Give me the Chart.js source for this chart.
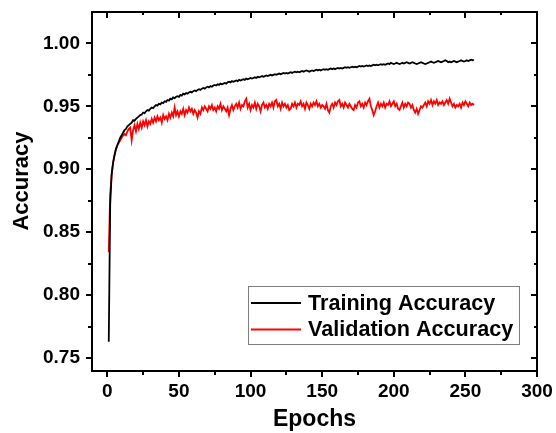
<!DOCTYPE html>
<html>
<head>
<meta charset="utf-8">
<script src="https://cdn.jsdelivr.net/npm/chart.js@4.4.1/dist/chart.umd.min.js"></script>
<style>
html,body{margin:0;padding:0;background:#fff;}
#wrap{width:556px;height:433px;position:relative;}
</style>
</head>
<body>
<div id="wrap"><canvas id="c" width="556" height="433"></canvas></div>
<script>
// ---- data ----
const seriesNames = ["Training Accuracy", "Validation Accuracy"];
const xTitle = "Epochs";
const yTitle = "Accuracy";
const trainAcc = [
0.763,0.872,0.896,0.905,0.911,0.916,0.919,0.922,0.925,0.927,
0.929,0.931,0.932,0.934,0.935,0.936,0.937,0.939,0.9385,0.940,
0.941,0.942,0.943,0.9435,0.945,0.9445,0.946,0.947,0.9465,0.948,
0.949,0.9485,0.950,0.951,0.9505,0.952,0.9515,0.953,0.9525,0.954,
0.9535,0.955,0.9545,0.956,0.9555,0.957,0.9565,0.9575,0.958,0.9575,
0.959,0.9585,0.960,0.9595,0.9605,0.960,0.961,0.9615,0.961,0.962,
0.9625,0.962,0.963,0.9635,0.963,0.964,0.9645,0.964,0.965,0.9655,
0.965,0.966,0.9655,0.9665,0.967,0.9665,0.9675,0.967,0.968,0.9675,
0.968,0.9685,0.968,0.969,0.9695,0.969,0.970,0.9695,0.970,0.9705,
0.970,0.971,0.9705,0.971,0.9715,0.971,0.972,0.9715,0.972,0.9725,
0.972,0.9725,0.973,0.9725,0.9735,0.973,0.9735,0.974,0.9735,0.974,
0.9745,0.974,0.9745,0.975,0.9745,0.975,0.9755,0.975,0.9755,0.976,
0.9755,0.976,0.9765,0.976,0.9765,0.976,0.9765,0.977,0.9765,0.977,
0.9775,0.977,0.9775,0.977,0.9775,0.978,0.9775,0.978,0.9785,0.978,
0.9775,0.978,0.9785,0.978,0.9785,0.979,0.9785,0.979,0.9785,0.979,
0.9795,0.979,0.9795,0.979,0.9795,0.980,0.9795,0.980,0.9795,0.980,
0.9805,0.980,0.9805,0.980,0.9805,0.981,0.9805,0.981,0.9805,0.981,
0.9815,0.981,0.9815,0.981,0.9815,0.982,0.9815,0.982,0.9815,0.982,
0.9825,0.982,0.9825,0.982,0.9825,0.983,0.9825,0.983,0.9825,0.983,
0.9835,0.983,0.9835,0.983,0.9835,0.984,0.9835,0.9845,0.984,0.9835,
0.984,0.9845,0.984,0.9835,0.984,0.9845,0.984,0.9845,0.985,0.9845,
0.984,0.9845,0.985,0.9845,0.984,0.9835,0.984,0.9845,0.985,0.9845,
0.984,0.9835,0.984,0.9845,0.985,0.9855,0.985,0.9845,0.985,0.9855,
0.986,0.9855,0.985,0.9855,0.986,0.9865,0.986,0.985,0.9855,0.985,
0.9855,0.986,0.9855,0.985,0.9855,0.986,0.9865,0.986,0.9855,0.986,
0.9865,0.986,0.9865,0.987,0.9865,0.987
];
const valAcc = [
0.834,0.880,0.895,0.905,0.911,0.916,0.919,0.921,0.923,0.925,
0.927,0.928,0.927,0.930,0.932,0.933,0.923,0.931,0.935,0.930,
0.936,0.932,0.937,0.933,0.938,0.935,0.939,0.934,0.938,0.936,
0.940,0.937,0.941,0.938,0.942,0.939,0.941,0.937,0.943,0.940,
0.942,0.939,0.944,0.941,0.945,0.942,0.949,0.943,0.946,0.942,
0.946,0.944,0.948,0.943,0.947,0.945,0.949,0.946,0.948,0.944,
0.947,0.945,0.941,0.946,0.944,0.949,0.947,0.950,0.948,0.946,
0.950,0.948,0.951,0.947,0.949,0.946,0.950,0.948,0.952,0.947,
0.950,0.948,0.946,0.949,0.943,0.948,0.951,0.947,0.950,0.952,
0.949,0.953,0.948,0.951,0.950,0.954,0.956,0.949,0.952,0.947,
0.951,0.949,0.953,0.948,0.952,0.950,0.946,0.951,0.953,0.949,
0.951,0.948,0.952,0.950,0.953,0.949,0.954,0.955,0.950,0.952,
0.948,0.953,0.950,0.952,0.949,0.951,0.947,0.948,0.952,0.950,
0.953,0.949,0.952,0.951,0.954,0.950,0.952,0.948,0.953,0.951,
0.948,0.952,0.950,0.953,0.951,0.954,0.950,0.952,0.949,0.951,
0.950,0.948,0.952,0.947,0.945,0.950,0.952,0.949,0.953,0.951,
0.954,0.955,0.950,0.952,0.949,0.953,0.951,0.949,0.952,0.950,
0.948,0.947,0.951,0.949,0.953,0.954,0.950,0.952,0.949,0.953,
0.951,0.954,0.956,0.950,0.947,0.943,0.946,0.950,0.953,0.949,
0.952,0.950,0.953,0.949,0.952,0.951,0.954,0.950,0.952,0.954,
0.950,0.952,0.948,0.947,0.950,0.953,0.949,0.952,0.950,0.953,
0.952,0.949,0.951,0.947,0.945,0.948,0.944,0.947,0.950,0.949,
0.951,0.953,0.950,0.954,0.952,0.955,0.951,0.954,0.952,0.955,
0.951,0.953,0.952,0.954,0.951,0.953,0.955,0.952,0.956,0.953,
0.950,0.952,0.949,0.951,0.950,0.952,0.949,0.953,0.951,0.954,
0.952,0.950,0.953,0.951,0.952,0.951
];
const epochs = trainAcc.map((_, i) => i + 1);
const xTicks = [0, 50, 100, 150, 200, 250, 300];
const xMinorTicks = [25, 75, 125, 175, 225, 275];
const yTicks = [0.75, 0.80, 0.85, 0.90, 0.95, 1.00];
const yMinorTicks = [0.775, 0.825, 0.875, 0.925, 0.975];

const FONT = "'Liberation Sans', Arial, Helvetica, sans-serif";

const framePlugin = {
  id: 'frame',
  afterDraw(chart) {
    const ctx = chart.ctx;
    const a = chart.chartArea;
    const xs = chart.scales.x, ys = chart.scales.y;
    ctx.save();
    ctx.strokeStyle = '#000';
    ctx.lineWidth = 2;
    ctx.lineCap = 'butt';
    ctx.beginPath();
    ctx.moveTo(a.left - 1, a.top); ctx.lineTo(a.right + 1, a.top);
    ctx.moveTo(a.right, a.top); ctx.lineTo(a.right, a.bottom + 1);
    ctx.stroke();
    ctx.beginPath();
    xTicks.forEach(v => { const p = Math.round(xs.getPixelForValue(v)); ctx.moveTo(p, a.top); ctx.lineTo(p, a.top + 6); });
    yTicks.forEach(v => { const p = Math.round(ys.getPixelForValue(v)); ctx.moveTo(a.right, p); ctx.lineTo(a.right - 6, p); });
    xMinorTicks.forEach(v => { const p = Math.round(xs.getPixelForValue(v)); ctx.moveTo(p, a.top); ctx.lineTo(p, a.top + 3); ctx.moveTo(p, a.bottom); ctx.lineTo(p, a.bottom + 4); });
    yMinorTicks.forEach(v => { const p = Math.round(ys.getPixelForValue(v)); ctx.moveTo(a.right, p); ctx.lineTo(a.right - 3, p); ctx.moveTo(a.left, p); ctx.lineTo(a.left - 4, p); });
    ctx.stroke();

    // y axis title
    ctx.save();
    ctx.translate(22, 181);
    ctx.rotate(-Math.PI / 2);
    ctx.fillStyle = '#000';
    ctx.font = "bold 22px " + FONT;
    ctx.textAlign = 'center';
    ctx.textBaseline = 'middle';
    ctx.fillText(yTitle, 0, 0);
    ctx.restore();

    // legend
    const lx = 248.5, ly = 286.5, lw = 271, lh = 58;
    ctx.strokeStyle = '#7f7f7f';
    ctx.lineWidth = 1;
    ctx.strokeRect(lx, ly, lw, lh);
    const rows = [303, 329.5];
    chart.data.datasets.forEach((ds, i) => {
      ctx.strokeStyle = ds.borderColor;
      ctx.lineWidth = 1.8;
      ctx.beginPath();
      ctx.moveTo(251, rows[i]); ctx.lineTo(301, rows[i]);
      ctx.stroke();
      ctx.fillStyle = '#000';
      ctx.font = "bold 21.6px " + FONT;
      ctx.textAlign = 'left';
      ctx.textBaseline = 'middle';
      ctx.fillText(ds.label, 308, rows[i] + 1);
    });
    ctx.restore();
  }
};

new Chart(document.getElementById('c'), {
  type: 'line',
  data: {
    datasets: [
      { label: seriesNames[0], data: epochs.map((e, i) => ({x: e, y: trainAcc[i]})), borderColor: '#000000', borderWidth: 1.8, pointRadius: 0, tension: 0, fill: false },
      { label: seriesNames[1], data: epochs.map((e, i) => ({x: e, y: valAcc[i]})), borderColor: '#ff0000', borderWidth: 1.8, pointRadius: 0, tension: 0, fill: false }
    ]
  },
  options: {
    responsive: false,
    animation: false,
    devicePixelRatio: 1,
    layout: { padding: { left: 0, right: 19, top: 12, bottom: 0 } },
    plugins: { legend: { display: false }, tooltip: { enabled: false } },
    scales: {
      x: {
        type: 'linear', min: -10.7, max: 300,
        afterBuildTicks: s => { s.ticks = xTicks.map(v => ({value: v})); },
        afterFit: s => { s.height = 62; s.paddingLeft = 0; s.paddingRight = 0; },
        grid: { drawOnChartArea: false, color: '#000', lineWidth: 2, tickLength: 6 },
        border: { display: true, color: '#000', width: 2 },
        ticks: { color: '#000', font: { family: FONT, size: 19, weight: 'bold' }, padding: 3, maxRotation: 0, autoSkip: false },
        title: { display: true, text: xTitle, color: '#000', font: { family: FONT, size: 23, weight: 'bold' }, padding: { top: 0, bottom: 0 } }
      },
      y: {
        type: 'linear', min: 0.7397, max: 1.0249,
        afterBuildTicks: s => { s.ticks = yTicks.map(v => ({value: v})); },
        afterFit: s => { s.width = 92; s.paddingTop = 0; s.paddingBottom = 0; },
        grid: { drawOnChartArea: false, color: '#000', lineWidth: 2, tickLength: 6 },
        border: { display: true, color: '#000', width: 2 },
        ticks: { color: '#000', font: { family: FONT, size: 19, weight: 'bold' }, padding: 6, callback: v => Number(v).toFixed(2), autoSkip: false },
        title: { display: false }
      }
    }
  },
  plugins: [framePlugin]
});
</script>
</body>
</html>
